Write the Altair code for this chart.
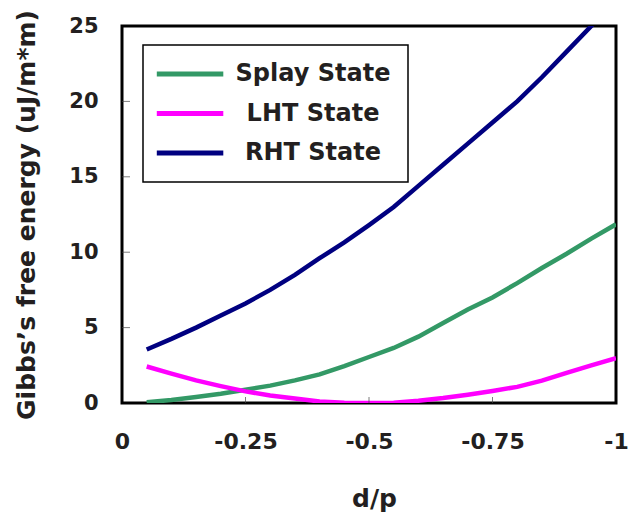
import altair as alt
import pandas as pd

FONT = "DejaVu Sans"
TEXT = "#231f20"

# ---- data ----
d_p = [-0.05, -0.10, -0.15, -0.20, -0.25, -0.30, -0.35, -0.40, -0.45, -0.50,
       -0.55, -0.60, -0.65, -0.70, -0.75, -0.80, -0.85, -0.90, -0.95, -1.00]
splay = [0.05, 0.20, 0.40, 0.62, 0.88, 1.15, 1.50, 1.90, 2.45, 3.05,
         3.65, 4.40, 5.30, 6.20, 7.00, 7.95, 8.95, 9.90, 10.90, 11.85]
lht = [2.42, 1.95, 1.50, 1.12, 0.77, 0.50, 0.30, 0.10, 0.02, 0.00,
       0.02, 0.15, 0.33, 0.55, 0.80, 1.07, 1.48, 2.00, 2.50, 2.97]
rht = [3.55, 4.25, 5.00, 5.80, 6.60, 7.50, 8.50, 9.60, 10.65, 11.80,
       13.00, 14.40, 15.80, 17.20, 18.60, 20.00, 21.60, 23.30, 25.00, 26.80]
series_names = ["Splay State", "LHT State", "RHT State"]
series_colors = ["#339966", "#FF00FF", "#000080"]
x_ticks = [0, -0.25, -0.5, -0.75, -1]
y_ticks = [0, 5, 10, 15, 20, 25]

rows = []
for name, vals in zip(series_names, [splay, lht, rht]):
    for x, v in zip(d_p, vals):
        rows.append({"d_p": x, "energy": v, "series": name})
df = pd.DataFrame(rows)

x_enc = alt.X(
    "d_p:Q",
    title="d/p",
    scale=alt.Scale(domain=[-1, 0], reverse=True, nice=False, zero=False),
    axis=alt.Axis(
        values=x_ticks, labelExpr="'' + datum.value", domain=False, ticks=False,
        grid=False, labelFont=FONT, labelFontSize=22, labelFontWeight="bold",
        labelColor=TEXT, labelPadding=28, labelFlush=False, labelOverlap=False,
        titleFont=FONT, titleFontSize=25, titleFontWeight="bold", titleColor=TEXT,
        titleX=252, titleY=95, titleBaseline="middle", titleAlign="center",
    ),
)
y_enc = alt.Y(
    "energy:Q",
    title="Gibbs\u2019s free energy (uJ/m*m)",
    scale=alt.Scale(domain=[0, 25], nice=False),
    axis=alt.Axis(
        values=y_ticks, domain=False, ticks=False, grid=False,
        labelFont=FONT, labelFontSize=21, labelFontWeight="bold", labelColor=TEXT,
        labelPadding=24, labelFlush=False, labelOverlap=False,
        titleFont=FONT, titleFontSize=25, titleFontWeight="bold", titleColor=TEXT,
        titleX=-96, titleY=188.5, titleAngle=270, titleBaseline="middle",
        titleAlign="center",
    ),
)

lines = alt.Chart(df).mark_line(strokeWidth=4.5, clip=True).encode(
    x=x_enc,
    y=y_enc,
    color=alt.Color(
        "series:N",
        scale=alt.Scale(domain=series_names, range=series_colors),
        legend=alt.Legend(
            title=None, orient="none", legendX=21, legendY=19, direction="vertical",
            symbolType="M-1.6,0H5.4", symbolSize=361, symbolStrokeWidth=5,
            labelFont=FONT, labelFontSize=24, labelFontWeight="bold",
            labelColor=TEXT, labelAlign="center", labelOffset=129, labelLimit=400,
            padding=17, rowPadding=15.5, strokeColor="black", fillColor="white",
        ),
    ),
)

ytick_layer = alt.Chart(pd.DataFrame({"energy": y_ticks[1:-1]})).mark_tick(
    size=16, thickness=1, color="#444444", clip=True
).encode(y=y_enc, x=alt.value(0))

xtick_layer = alt.Chart(pd.DataFrame({"d_p": x_ticks[1:-1]})).mark_tick(
    size=12, thickness=1, color="#444444", clip=True
).encode(x=x_enc, y=alt.value(377))

chart = (
    alt.layer(lines, ytick_layer, xtick_layer)
    .properties(
        width=494,
        height=377,
        autosize=alt.AutoSizeParams(type="none"),
        padding={"left": 122, "top": 26, "right": 17, "bottom": 110},
        background="white",
    )
    .configure_view(stroke="black", strokeWidth=3)
    .configure_legend(strokeWidth=1.5)
)

chart.save("out.html", embed_options={"renderer": "svg", "actions": False})
